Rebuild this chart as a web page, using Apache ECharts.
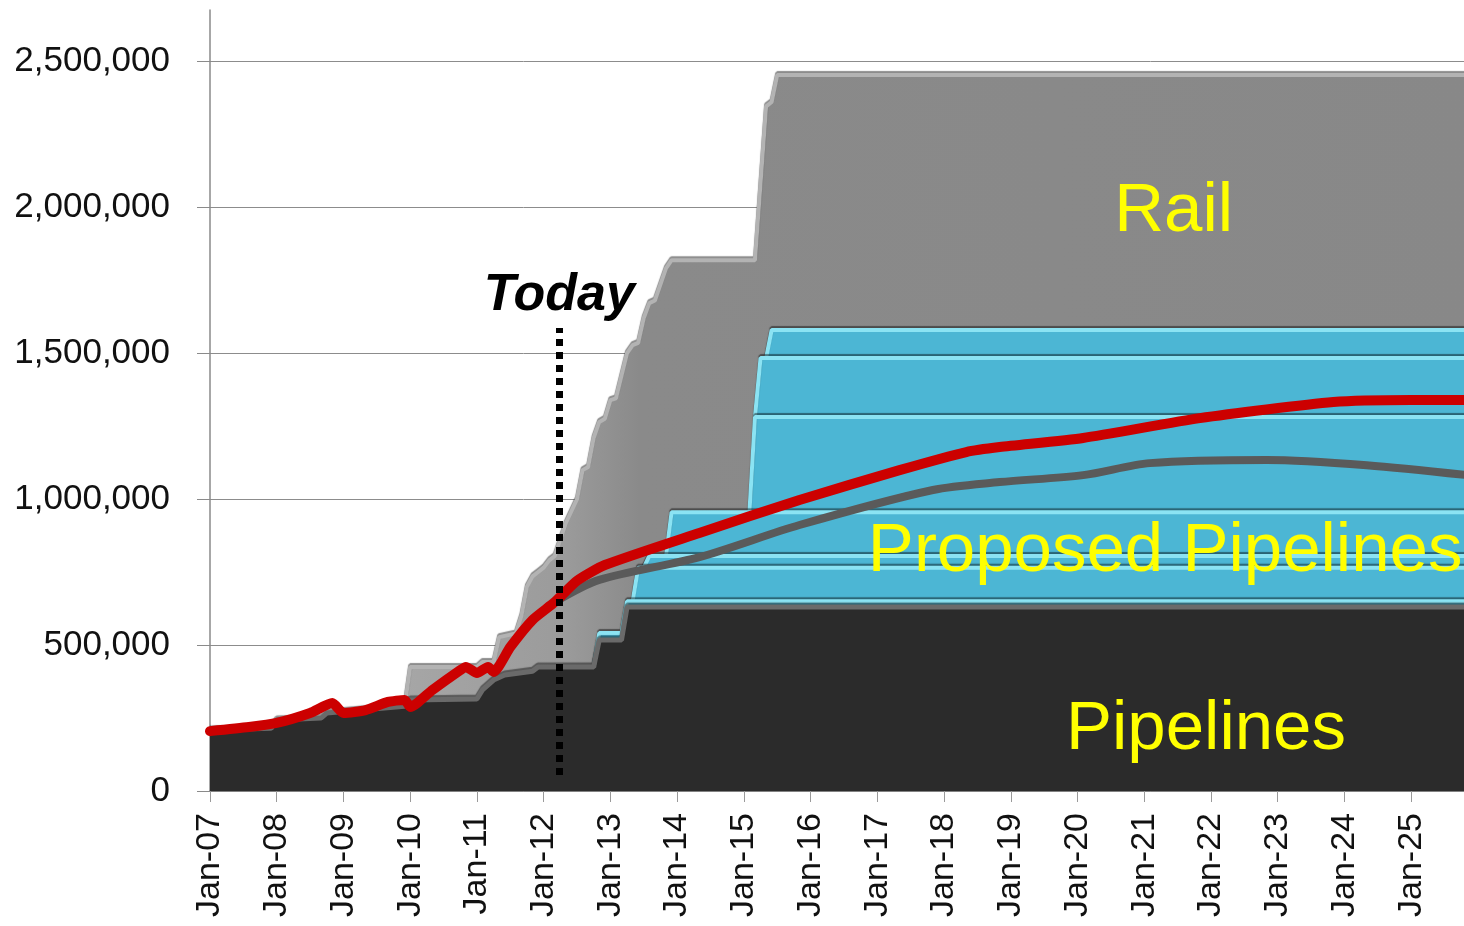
<!DOCTYPE html>
<html>
<head>
<meta charset="utf-8">
<style>
  html, body { margin: 0; padding: 0; background: #fff; }
  #chart { width: 1464px; height: 926px; }
</style>
<script src="https://cdn.jsdelivr.net/npm/echarts@6/dist/echarts.min.js"></script>
</head>
<body>
<div id="chart"></div>
<script>
// capacity / production values, [month, barrels per day]
const pipelines = [
  ['2007-01', 209000], ['2007-12', 215000], ['2008-01', 243000], ['2008-09', 250000],
  ['2008-10', 267000], ['2009-12', 290000], ['2010-01', 312000], ['2011-01', 315000],
  ['2011-02', 346000], ['2011-04', 380000], ['2011-06', 397000], ['2011-11', 410000],
  ['2011-12', 425000], ['2012-10', 425000], ['2012-11', 517000], ['2013-03', 517000],
  ['2013-04', 630000], ['2025-12', 630000]
];
// proposed pipelines, cumulative top of each band
const proposed1 = [['2012-10', 425000], ['2012-11', 541000], ['2013-03', 541000], ['2013-04', 650000], ['2025-12', 650000]];
const proposed2 = [['2013-05', 650000], ['2013-06', 765000], ['2025-12', 765000]];
const proposed3 = [['2013-07', 765000], ['2013-08', 805000], ['2025-12', 805000]];
const proposed4 = [['2013-11', 805000], ['2013-12', 955000], ['2025-12', 955000]];
const proposed5 = [['2015-02', 955000], ['2015-03', 1281000], ['2025-12', 1281000]];
const proposed6 = [['2015-03', 1281000], ['2015-04', 1483000], ['2025-12', 1483000]];
const proposed7 = [['2015-05', 1483000], ['2015-06', 1579000], ['2025-12', 1579000]];
// rail, cumulative top (total takeaway)
const railTotal = [
  ['2009-12', 290000], ['2010-01', 425000], ['2011-01', 425000], ['2011-02', 442000],
  ['2011-04', 442000], ['2011-05', 527000], ['2011-08', 540000], ['2011-09', 600000],
  ['2011-10', 700000], ['2011-11', 735000], ['2011-12', 750000], ['2012-01', 765000],
  ['2012-02', 790000], ['2012-03', 805000], ['2012-05', 918000], ['2012-07', 1000000],
  ['2012-08', 1099000], ['2012-09', 1110000], ['2012-10', 1210000], ['2012-11', 1264000],
  ['2012-12', 1275000], ['2013-01', 1339000], ['2013-02', 1345000], ['2013-04', 1500000],
  ['2013-05', 1527000], ['2013-06', 1535000], ['2013-07', 1620000], ['2013-08', 1671000],
  ['2013-09', 1680000], ['2013-11', 1790000], ['2013-12', 1818000], ['2015-03', 1818000],
  ['2015-05', 2345000], ['2015-06', 2360000], ['2015-07', 2452000], ['2025-12', 2452000]
];
// production (red) and alternative forecast (dark grey)
const production = [
  ['2007-01', 205000], ['2007-08', 219000], ['2008-01', 233000], ['2008-07', 267000],
  ['2008-11', 301000], ['2009-01', 267000], ['2009-05', 277000], ['2009-09', 305000],
  ['2009-12', 312000], ['2010-01', 288000], ['2010-05', 346000], ['2010-10', 414000],
  ['2010-11', 425000], ['2011-01', 404000], ['2011-03', 425000], ['2011-04', 408000],
  ['2011-07', 493000], ['2011-11', 586000], ['2012-03', 647000], ['2012-07', 720000],
  ['2012-12', 774000], ['2014-05', 884000], ['2015-11', 997000], ['2017-05', 1099000],
  ['2018-05', 1161000], ['2018-11', 1178000], ['2020-02', 1209000], ['2021-11', 1277000],
  ['2023-11', 1332000], ['2025-01', 1339000], ['2025-12', 1339000]
];
const forecastLow = [
  ['2012-03', 647000], ['2012-11', 723000], ['2014-05', 801000], ['2015-11', 911000],
  ['2017-11', 1031000], ['2018-11', 1058000], ['2020-02', 1082000], ['2021-02', 1123000],
  ['2022-11', 1134000], ['2024-05', 1116000], ['2025-12', 1080000]
];
const todayMonth = 62.8;

const FONT = '"Liberation Sans", Arial, sans-serif';

// month string -> months since Jan-07
function mIdx(s) {
  const [y, m] = s.split('-').map(Number);
  return (y - 2007) * 12 + (m - 1);
}
function toXY(arr) {
  return arr.map(d => [mIdx(d[0]), d[1]]);
}

function areaSeries(name, data, fill, edge, edgeWidth) {
  return {
    name: name,
    type: 'line',
    data: toXY(data),
    showSymbol: false,
    areaStyle: { color: fill, opacity: 1, origin: 'start' },
    lineStyle: { color: edge, width: edgeWidth, shadowColor: 'rgba(0,0,0,0.45)', shadowOffsetY: -2, shadowBlur: 1 },
    silent: true
  };
}

const BLUE = '#4cb6d4';
const BLUE_EDGE = '#8be3f3';

// the early rail steps are lit a little lighter than the rest
const RAIL_FILL = new echarts.graphic.LinearGradient(0, 0, 1, 0, [
  { offset: 0, color: '#a6a6a6' },
  { offset: 0.15, color: '#9b9b9b' },
  { offset: 0.22, color: '#8a8a8a' },
  { offset: 1, color: '#888888' }
]);

const chart = echarts.init(document.getElementById('chart'));

chart.setOption({
  animation: false,
  backgroundColor: '#ffffff',
  grid: { left: 210, right: 0, top: 10, bottom: 135, containLabel: false },
  xAxis: {
    type: 'value',
    min: 0,
    max: 225.5,
    interval: 12,
    axisLine: { show: true, lineStyle: { color: '#7f7f7f', width: 1.5 } },
    axisTick: { show: true, length: 11, lineStyle: { color: '#9a9a9a' } },
    splitLine: { show: false },
    axisLabel: {
      rotate: 90,
      margin: 22,
      fontSize: 34,
      fontFamily: FONT,
      color: '#111',
      showMaxLabel: false,
      formatter: v => 'Jan-' + String(7 + v / 12).padStart(2, '0')
    }
  },
  yAxis: {
    type: 'value',
    min: 0,
    max: 2675000,
    interval: 500000,
    axisLine: { show: true, lineStyle: { color: '#8a8a8a', width: 1.5 } },
    axisTick: { show: true, length: 13, lineStyle: { color: '#8a8a8a' } },
    splitLine: { show: true, showMaxLine: false, lineStyle: { color: '#8c8c8c', width: 1 } },
    axisLabel: {
      margin: 40,
      fontSize: 35,
      fontFamily: FONT,
      color: '#111',
      showMaxLabel: false,
      formatter: v => (v % 500000 === 0 ? v.toLocaleString('en-US') : '')
    }
  },
  series: [
    areaSeries('Rail', railTotal, RAIL_FILL, '#b3b3b3', 4),
    areaSeries('Proposed 7', proposed7, BLUE, BLUE_EDGE, 4),
    areaSeries('Proposed 6', proposed6, BLUE, BLUE_EDGE, 4),
    areaSeries('Proposed 5', proposed5, BLUE, BLUE_EDGE, 4),
    areaSeries('Proposed 4', proposed4, BLUE, BLUE_EDGE, 4),
    areaSeries('Proposed 3', proposed3, BLUE, BLUE_EDGE, 4),
    areaSeries('Proposed 2', proposed2, BLUE, BLUE_EDGE, 4),
    areaSeries('Proposed 1', proposed1, BLUE, BLUE_EDGE, 4),
    areaSeries('Pipelines', pipelines, '#2b2b2b', '#6a6a6a', 5),
    {
      name: 'Forecast (low)',
      type: 'line',
      data: toXY(forecastLow),
      showSymbol: false,
      smooth: 0.3,
      lineStyle: { color: '#5a5a5a', width: 8 },
      silent: true
    },
    {
      name: 'Production',
      type: 'line',
      data: toXY(production),
      showSymbol: false,
      smooth: 0.2,
      lineStyle: { color: '#cc0000', width: 10, cap: 'round', join: 'round' },
      silent: true,
      markLine: {
        silent: true,
        symbol: ['none', 'none'],
        lineStyle: { color: '#000', width: 7, type: [7, 6] },
        label: {
          show: true,
          position: 'end',
          distance: 6,
          formatter: 'Today',
          fontSize: 52,
          fontWeight: 'bold',
          fontStyle: 'italic',
          fontFamily: FONT,
          color: '#000'
        },
        data: [[{ coord: [todayMonth, 55000] }, { coord: [todayMonth, 1586000] }]]
      },
      markPoint: {
        silent: true,
        symbol: 'circle',
        symbolSize: 1,
        itemStyle: { color: 'rgba(0,0,0,0)' },
        label: {
          show: true,
          position: 'inside',
          formatter: '{b}',
          fontSize: 69,
          fontFamily: FONT,
          color: '#ffff00'
        },
        data: [
          { name: 'Rail', coord: [173.3, 1983000] },
          { name: 'Proposed Pipelines', coord: [118.3, 818000], label: { align: 'left' } },
          { name: 'Pipelines', coord: [179.1, 209000] }
        ]
      }
    }
  ]
});
</script>
</body>
</html>
